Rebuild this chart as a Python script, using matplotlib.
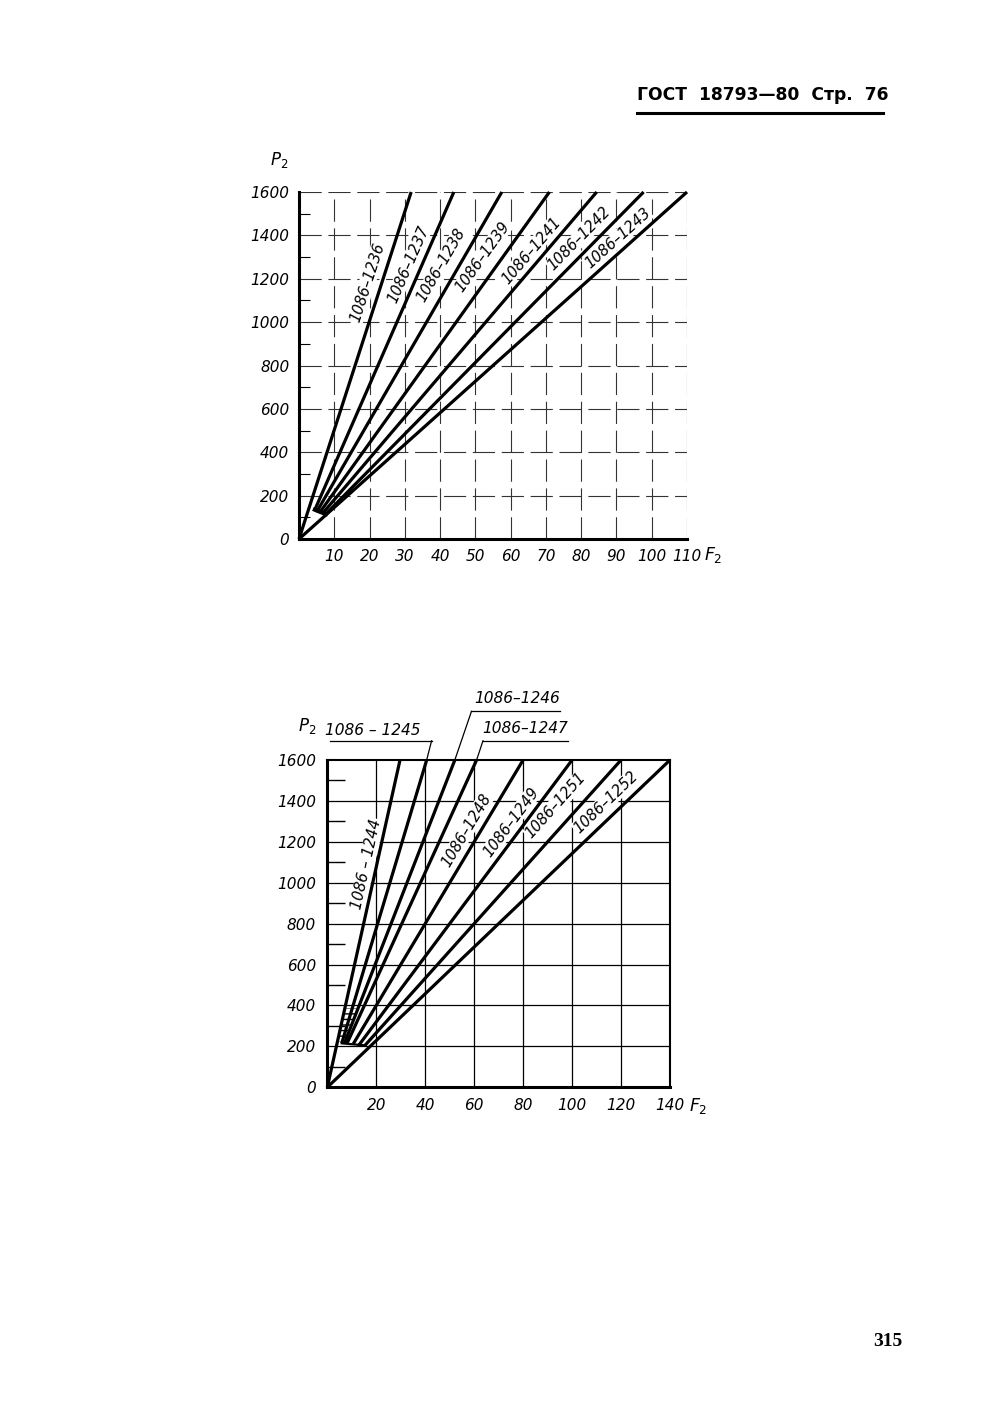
import numpy as np
import matplotlib
matplotlib.use("Agg")
import matplotlib.pyplot as plt
from matplotlib.patches import Polygon
from matplotlib.lines import Line2D

# ---------------- data ----------------
# Upper chart: P2 vs F2
top_labels = ["1086–1236", "1086–1237", "1086–1238", "1086–1239",
              "1086–1241", "1086–1242", "1086–1243"]
top_start_f = [0.0, 4.5, 5.2, 6.0, 6.8, 7.6, 0.0]
top_start_p = [0, 135, 130, 125, 120, 115, 0]
top_end_f = [31.8, 43.9, 57.5, 71.0, 84.4, 97.7, 110.0]
top_end_p = [1600, 1600, 1600, 1600, 1600, 1600, 1600]
top_xticks = [10, 20, 30, 40, 50, 60, 70, 80, 90, 100, 110]
top_yticks = [0, 200, 400, 600, 800, 1000, 1200, 1400, 1600]

# Lower chart: P2 vs F2
bot_labels = ["1086 – 1244", "1086 – 1245", "1086–1246", "1086–1247",
              "1086–1248", "1086–1249", "1086–1251", "1086–1252"]
bot_start_f = [0.0, 5.9, 7.0, 8.0, 10.6, 12.7, 15.4, 0.0]
bot_start_p = [0, 215, 215, 213, 212, 203, 205, 0]
bot_end_f = [29.7, 40.6, 52.1, 61.0, 80.0, 100.0, 120.0, 140.0]
bot_end_p = [1600, 1600, 1600, 1600, 1600, 1600, 1600, 1600]
bot_xticks = [20, 40, 60, 80, 100, 120, 140]
bot_yticks = [0, 200, 400, 600, 800, 1000, 1200, 1400, 1600]

# ---------------- styling / layout ----------------
FONT = ["DejaVu Sans"]
lab_kw = dict(family=FONT, style="italic")
W, H = 1000, 1415
LAB_FS = 10.6
BOX = dict(facecolor="white", edgecolor="none", pad=0.5)

fig = plt.figure(figsize=(10, 14.15), dpi=100)
fig.patch.set_facecolor("white")


def fig_xy(px, py):
    return px / W, 1 - py / H


def angle_of(ax, x0, y0, x1, y1):
    (a, b), (c, d) = ax.transData.transform([(x0, y0), (x1, y1)])
    return np.degrees(np.arctan2(d - b, c - a))


# ================= upper chart =================
ax1 = fig.add_axes([299 / W, 1 - 539 / H, 388 / W, 347 / H])
ax1.set_xlim(0, 110)
ax1.set_ylim(0, 1600)
for s in ["top", "right"]:
    ax1.spines[s].set_visible(False)
for s in ["left", "bottom"]:
    ax1.spines[s].set_linewidth(2.2)
dash = (0, (20, 6))
for x in top_xticks:
    ax1.axvline(x, color="#333333", lw=0.8, ls=dash, zorder=1)
for y in top_yticks[1:]:
    ax1.axhline(y, color="#333333", lw=0.8, ls=dash, zorder=1)

ax1.set_xticks(top_xticks)
ax1.set_xticklabels([str(v) for v in top_xticks], fontsize=11, **lab_kw)
ax1.set_yticks(top_yticks)
ax1.set_yticklabels([str(v) for v in top_yticks], fontsize=11, **lab_kw)
ax1.set_yticks(list(range(100, 1600, 200)), minor=True)
ax1.tick_params(which="major", length=0, pad=7)
ax1.tick_params(which="minor", direction="in", length=8, width=0.8, left=True)

for sf, sp, ef, ep in zip(top_start_f, top_start_p, top_end_f, top_end_p):
    ax1.plot([sf, ef], [sp, ep], color="black", lw=2.3,
             solid_capstyle="butt", zorder=3, clip_on=False)
# joining edge of the start points
ax1.plot(top_start_f[1:6], top_start_p[1:6], color="black", lw=3.0, zorder=3)

top_label_pos = [(19.4, 1185), (31.0, 1265), (40.3, 1262), (52.0, 1300),
                 (65.8, 1330), (79.5, 1385), (90.3, 1385)]
for lab, (tx, ty), sf, sp, ef, ep in zip(top_labels, top_label_pos, top_start_f,
                                         top_start_p, top_end_f, top_end_p):
    ang = angle_of(ax1, sf, sp, ef, ep)
    ax1.text(tx, ty, lab, rotation=ang, rotation_mode="anchor",
             ha="center", va="center", fontsize=LAB_FS, zorder=2, bbox=BOX, **lab_kw)

fig.text(*fig_xy(279, 160), r"$P_2$", fontsize=12, ha="center", va="center")
fig.text(*fig_xy(713, 555), r"$F_2$", fontsize=12.5, ha="center", va="center")

# ================= lower chart =================
ax2 = fig.add_axes([327.3 / W, 1 - 1087.3 / H, 342.7 / W, 327.3 / H])
ax2.set_xlim(0, 140)
ax2.set_ylim(0, 1600)
for s in ["left", "bottom"]:
    ax2.spines[s].set_linewidth(2.2)
for s in ["top", "right"]:
    ax2.spines[s].set_linewidth(1.5)
for x in bot_xticks[:-1]:
    ax2.axvline(x, color="black", lw=0.9, zorder=1)
for y in bot_yticks[1:-1]:
    ax2.axhline(y, color="black", lw=0.9, zorder=1)

ax2.set_xticks(bot_xticks)
ax2.set_xticklabels([str(v) for v in bot_xticks], fontsize=11, **lab_kw)
ax2.set_yticks(bot_yticks)
ax2.set_yticklabels([str(v) for v in bot_yticks], fontsize=11, **lab_kw)
ax2.set_yticks(list(range(100, 1600, 200)), minor=True)
ax2.tick_params(which="major", length=0, pad=8)
ax2.tick_params(which="minor", direction="in", length=13, width=1.0, left=True)

for sf, sp, ef, ep in zip(bot_start_f, bot_start_p, bot_end_f, bot_end_p):
    ax2.plot([sf, ef], [sp, ep], color="black", lw=2.3,
             solid_capstyle="butt", zorder=3, clip_on=False)
ax2.plot([bot_start_f[1], bot_start_f[6]], [bot_start_p[1], bot_start_p[6]],
         color="black", lw=1.6, zorder=3)


def f_at(i, p):
    return bot_start_f[i] + (p - bot_start_p[i]) * (bot_end_f[i] - bot_start_f[i]) / (bot_end_p[i] - bot_start_p[i])


hatch = Polygon([(f_at(0, 225), 225), (f_at(2, 225), 225),
                 (f_at(2, 385), 385), (f_at(0, 385), 385)],
                closed=True, fill=False, hatch="---", lw=0, edgecolor="black", zorder=2)
ax2.add_patch(hatch)

inner = {0: (16.0, 1090), 4: (56.7, 1255), 5: (75.1, 1297), 6: (93.4, 1378), 7: (113.8, 1394)}
for i, (tx, ty) in inner.items():
    ang = angle_of(ax2, bot_start_f[i], bot_start_p[i], bot_end_f[i], bot_end_p[i])
    ax2.text(tx, ty, bot_labels[i], rotation=ang, rotation_mode="anchor",
             ha="center", va="center", fontsize=LAB_FS, zorder=2, bbox=BOX, **lab_kw)

# labels above the chart with leader lines
outer = {1: ((18.5, 1745), (1.1, 42.6, 1694)),
         2: ((77.5, 1900), (58.9, 95.0, 1838)),
         3: ((81.0, 1752), (63.6, 98.2, 1694))}
for i, ((tx, ty), (u0, u1, uy)) in outer.items():
    ax2.text(tx, ty, bot_labels[i], ha="center", va="center", fontsize=LAB_FS + 0.5,
             clip_on=False, **lab_kw)
    lead_x = u1 if i == 1 else u0
    ax2.plot([u0, u1], [uy, uy], color="black", lw=0.9, clip_on=False)
    ax2.plot([lead_x, bot_end_f[i]], [uy, bot_end_p[i]], color="black", lw=0.9,
             clip_on=False)

fig.text(*fig_xy(307, 726), r"$P_2$", fontsize=12, ha="center", va="center")
fig.text(*fig_xy(698, 1106), r"$F_2$", fontsize=12.5, ha="center", va="center")

# ================= page header / footer =================
fig.text(*fig_xy(637, 95), "ГОСТ  18793—80  Стр.  76", fontsize=12.3,
         fontweight="bold", ha="left", va="center", family=["DejaVu Sans"])
fig.add_artist(Line2D([637 / W, 883 / W], [1 - 113 / H, 1 - 113 / H],
                      color="black", lw=2.2))
fig.text(*fig_xy(888, 1342), "315", fontsize=14, fontweight="bold",
         ha="center", va="center", family=["Liberation Serif", "DejaVu Serif"])

fig.savefig("out.png", dpi=100, facecolor="white")
